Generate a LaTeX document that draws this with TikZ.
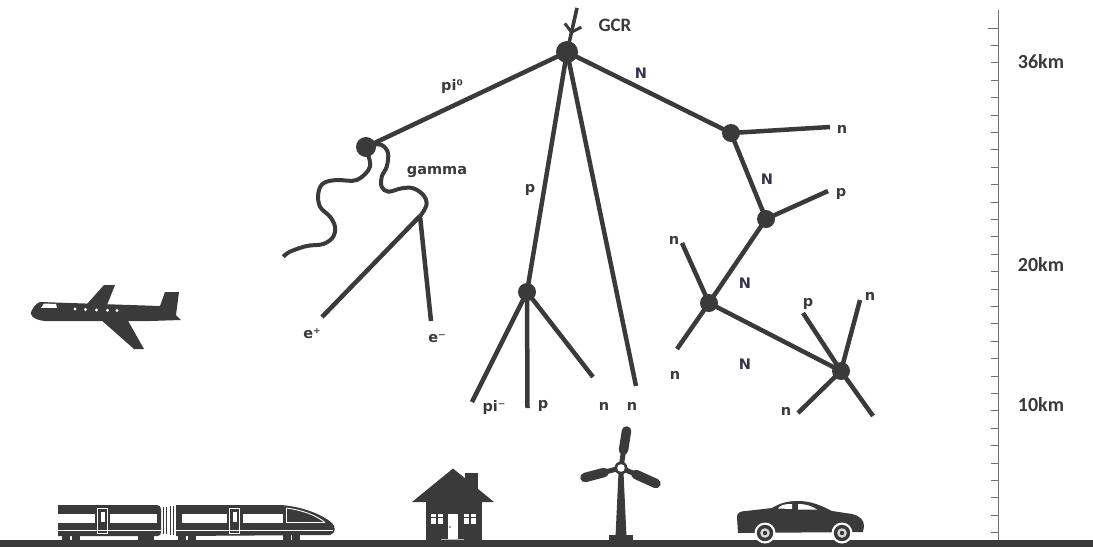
\documentclass[tikz,border=0pt]{standalone}
\usepackage{fontspec}
\newfontfamily\lblfont{DejaVu Sans}
\newfontfamily\calfont{Carlito}
\usetikzlibrary{arrows.meta}
\definecolor{inkc}{HTML}{3A3A3A}
\definecolor{navyink}{HTML}{34344A}
\definecolor{scalec}{HTML}{707070}

\begin{document}
\begin{tikzpicture}[x=1pt,y=-1pt,
  track/.style={draw=inkc,line width=4.5pt},
  wave/.style={draw=inkc,line width=4pt,line join=round},
  vtx/.style={circle,fill=inkc,inner sep=0pt,minimum size=#1},
  vtx/.default=18pt,
  lbl/.style={font=\lblfont\bfseries\fontsize{14.5}{15}\selectfont,text=inkc,inner sep=0pt},
  nlbl/.style={lbl,text=navyink},
  kmlbl/.style={font=\calfont\bfseries\fontsize{20}{20}\selectfont,text=inkc,inner sep=0pt},
  gcrlbl/.style={font=\calfont\bfseries\fontsize{19}{19}\selectfont,text=inkc,inner sep=0pt},
  scaleline/.style={draw=scalec,line width=1pt}]

\useasboundingbox (0,0) rectangle (1093,547);

% ---------- interaction vertices ----------
\node[vtx=22pt] (v0) at (567,52) {};
\node[vtx=20pt] (v1) at (366,147) {};
\node[vtx] (v2) at (527,292) {};
\node[vtx] (v3) at (731,133) {};
\node[vtx] (v4) at (766,219) {};
\node[vtx] (v5) at (709,303) {};
\node[vtx] (v6) at (841,371) {};
\coordinate (pair) at (420,216);

% free track ends
\coordinate (gcrin) at (577,8);
\coordinate (gcrtip) at (571.1,34);
\coordinate (epos) at (322,317);
\coordinate (eneg) at (431,321);
\coordinate (pimend) at (472,402);
\coordinate (pend) at (527.5,408);
\coordinate (nend1) at (593,377);
\coordinate (nend2) at (636,386);
\coordinate (nend3) at (830,127);
\coordinate (pend2) at (828,191);
\coordinate (nend4) at (682,243);
\coordinate (nend5) at (677,349);
\coordinate (pend3) at (803,313);
\coordinate (nend6) at (860,300);
\coordinate (nend7) at (798,413);
\coordinate (nend8) at (873,416);

% ---------- incoming cosmic ray ----------
\draw[track,line width=3.5pt] (gcrin) -- (v0.center);
\draw[draw=inkc,line width=3pt,-{Straight Barb[length=7pt,width=17pt,line width=3pt]}] (gcrin) -- (gcrtip);

% ---------- tracks ----------
\draw[track] (v0.center) -- (v1.center);
\draw[track] (v0.center) -- (v2.center);
\draw[track] (v0.center) -- (nend2);
\draw[track] (v0.center) -- (v3.center);

\draw[track] (v2.center) -- (pimend);
\draw[track] (v2.center) -- (pend);
\draw[track] (v2.center) -- (nend1);

\draw[track] (v3.center) -- (nend3);
\draw[track] (v3.center) -- (v4.center);
\draw[track] (v4.center) -- (pend2);
\draw[track] (v4.center) -- (v5.center);
\draw[track] (v5.center) -- (nend4);
\draw[track] (v5.center) -- (nend5);
\draw[track] (v5.center) -- (v6.center);
\draw[track] (v6.center) -- (pend3);
\draw[track] (v6.center) -- (nend6);
\draw[track] (v6.center) -- (nend7);
\draw[track] (v6.center) -- (nend8);

\draw[track] (pair) -- (epos);
\draw[track] (pair) -- (eneg);

% ---------- photons ----------
\draw[wave] plot[smooth,tension=0.6] coordinates {(366,150) (370,166.7) (356.7,180) (336.7,180) (323.3,183.3) (318.3,193.3) (320,206.7) (330,216.7) (335,226.7) (333.3,236.7) (323.3,244) (306.7,246) (290,251.7) (283.3,256.7)};
\draw[wave] plot[smooth,tension=0.6] coordinates {(372,145) (381.7,145) (388,153) (386.7,166.7) (381.7,176.7) (381.7,186.7) (388.3,191.7) (401.7,188.3) (413.3,188.3) (423.3,195) (426.7,203.3) (423.3,211.7) (420,216)};

% ---------- labels ----------
\node[gcrlbl] (tgcr) at (615,25) {GCR};
\node[lbl] (tpi0) at (452,86) {pi⁰};
\node[lbl] (tgamma) at (437,172) {gamma};
\node[lbl] (tepos) at (312,334) {e⁺};
\node[lbl] (teneg) at (437,339) {e⁻};
\node[lbl] (tp1) at (530,190) {p};
\node[nlbl] (tN1) at (641,73) {N};
\node[lbl] (tpim) at (494,407) {pi⁻};
\node[lbl] (tp2) at (543,406) {p};
\node[lbl] (tn1) at (604,406) {n};
\node[lbl] (tn2) at (632,406) {n};
\node[lbl] (tn3) at (842,129) {n};
\node[nlbl] (tN2) at (767,179) {N};
\node[lbl] (tp3) at (841,194) {p};
\node[lbl] (tn4) at (674,240) {n};
\node[nlbl] (tN3) at (745,283) {N};
\node[lbl] (tn5) at (675,375) {n};
\node[nlbl] (tN4) at (745,364) {N};
\node[lbl] (tp4) at (808,304) {p};
\node[lbl] (tn6) at (870,296) {n};
\node[lbl] (tn7) at (786,411) {n};

% ---------- altitude scale ----------
\draw[scaleline] (998,10) -- (998,540);
\draw[scaleline] (988,28) -- (998,28);
\foreach \k in {1,...,29} {
  \draw[scaleline] (991,{28+17.4*\k}) -- (998,{28+17.4*\k});
}
\node[kmlbl] (km36) at (1041,62) {36km};
\node[kmlbl] (km20) at (1041,265) {20km};
\node[kmlbl] (km10) at (1041,405) {10km};

% ---------- ground ----------
\fill[inkc] (0,540) rectangle (1093,547);

% ---------- airplane ----------
\fill[inkc] (40,302) -- (160,306) -- (165,292) -- (179,292) -- (176,315) -- (181,320) -- (150,321) -- (45,321)
  .. controls (33,320) and (28,314) .. (32,310) .. controls (34,306) and (37,303) .. (40,302) -- cycle;
\fill[inkc] (87,304) -- (104,285) -- (115,285) -- (107,305) -- cycle;
\fill[inkc] (100,319) -- (134,349) -- (144,349) -- (127,319) -- cycle;
\fill[white] (44,303.5) -- (56,304) -- (57,307.8) -- (41,307.8) -- cycle;
\foreach \wx/\wy in {75/309,85.5/309.5,96.5/310,107.5/310.2,117/310.5}
  \fill[white] (\wx,\wy) circle (1.6pt);

% ---------- train ----------
\fill[inkc] (58,505) -- (157,505) .. controls (160,505) and (161,507) .. (161,510) -- (161,532)
  .. controls (161,535) and (160,536) .. (157,536) -- (58,536) -- cycle;
\draw[inkc,line width=1.6pt] (163.3,507) -- (163.3,534) (166.3,507) -- (166.3,534);
\draw[inkc,line width=1.6pt] (170.6,506) -- (170.6,535) (173.6,506) -- (173.6,535);
\fill[inkc] (176,505) -- (280,505) .. controls (300,506) and (322,514) .. (332,523)
  .. controls (336,527) and (336,533) .. (330,535) -- (176,536) -- cycle;
% windows, doors and trim
\fill[white] (58,514) rectangle (95,523);
\fill[white] (110,514) rectangle (157,523);
\draw[white,line width=0.9pt] (97.5,508.5) rectangle (107.5,533);
\fill[white] (100.5,512) rectangle (104.5,522);
\fill[white] (182,514) rectangle (227,523);
\fill[white] (243,514) rectangle (283,523);
\draw[white,line width=0.9pt] (229.5,508.5) rectangle (239.5,533);
\fill[white] (232.5,512) rectangle (236.5,522);
\draw[white,line width=0.9pt] (286,508) -- (286,522.5) -- (325,522.5);
\draw[white,line width=0.9pt] (286,508) .. controls (302,510) and (316,515) .. (325,522.5);
\draw[white,line width=0.8pt] (58,530.5) -- (161,530.5) (176,530.5) -- (333,530.5);
% bogies
\foreach \bx in {62,72,138,146,178,188,283,292}
  \fill[inkc] (\bx,535) rectangle ({\bx+7.5},541);

% ---------- house ----------
\fill[inkc] (426,500) rectangle (482,541);
\fill[inkc] (465,473) rectangle (478,490);
\fill[inkc] (453,468.5) -- (494,502) -- (412,502) -- cycle;
\fill[white] (431,514) rectangle (443,524);
\fill[white] (464,514) rectangle (476,524);
\draw[inkc,line width=1.3pt] (437,514) -- (437,524) (431,517.5) -- (443,517.5)
  (470,514) -- (470,524) (464,517.5) -- (476,517.5);
\fill[white] (447.5,514) rectangle (458,538.5);
\fill[inkc] (450,527) circle (0.8pt);
\draw[gray!55,line width=1pt] (441,539) -- (464,539);

% ---------- wind turbine ----------
\fill[inkc] (618.5,472) -- (623.5,472) -- (626.5,537) -- (615.5,537) -- cycle;
\fill[inkc] (609,535) rectangle (633,541);
\draw[inkc,line width=5pt] (621,468) -- (624.5,444);
\draw[inkc,line width=9.5pt,line cap=round] (623.5,450) -- (626.5,431);
\draw[inkc,line width=5pt] (621,468) -- (601,473);
\draw[inkc,line width=9.5pt,line cap=round] (604,472.5) -- (585,477.5);
\draw[inkc,line width=5pt] (621,468) -- (640,476);
\draw[inkc,line width=9.5pt,line cap=round] (636,474.5) -- (656,483.5);
\fill[inkc] (621,468) circle (6.5pt);
\fill[white] (621,468) circle (3.8pt);

% ---------- car ----------
\fill[inkc] (738,533) -- (737,517) .. controls (737,513) and (740,511) .. (746,511) -- (772,508)
  .. controls (780,503) and (788,501) .. (798,501) .. controls (812,501) and (822,506) .. (832,511)
  -- (852,514) .. controls (860,516) and (864,520) .. (864,526) -- (863,532) -- cycle;
\fill[white] (778,508.5) .. controls (780,505) and (784,504) .. (792,504) -- (792,509) -- cycle;
\fill[white] (798,504) .. controls (806,504) and (812,506) .. (817,509.5) -- (798,509.5) -- cycle;
\foreach \cx in {765,842} {
  \fill[white] (\cx,533) circle (10.5pt);
  \fill[inkc] (\cx,533) circle (8.2pt);
  \fill[white!80!inkc] (\cx,533) circle (4.8pt);
  \fill[inkc] (\cx,533) circle (2.2pt);
}
\end{tikzpicture}
\end{document}
